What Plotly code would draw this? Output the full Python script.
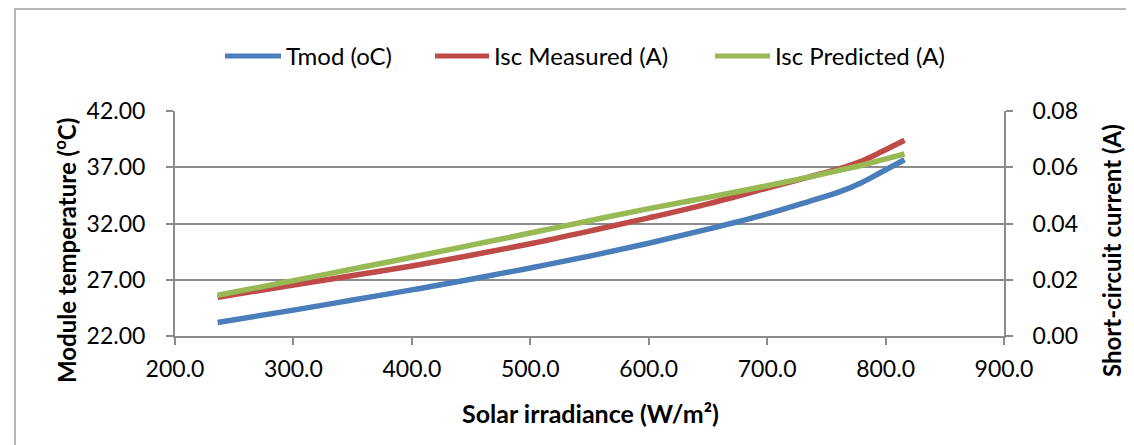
import plotly.graph_objects as go

irradiance = [236, 300, 350, 400, 450, 500, 550, 600, 650, 700, 735, 762, 780, 797, 816]
tmod = [23.2, 24.3, 25.2, 26.1, 27.05, 28.05, 29.1, 30.25, 31.5, 32.85, 33.95, 34.85, 35.65, 36.6, 37.67]
isc_measured = [0.0138, 0.0181, 0.0215, 0.0249, 0.0287, 0.0328, 0.0373, 0.0420, 0.0470, 0.0526,
                0.0565, 0.0596, 0.0622, 0.0656, 0.0696]
isc_predicted = [0.0145, 0.0197, 0.0238, 0.0280, 0.0323, 0.0366, 0.0410, 0.0453, 0.0493, 0.0534,
                 0.0565, 0.0590, 0.0607, 0.0626, 0.0647]

series_names = ["Tmod (oC)", "Isc Measured (A)", "Isc Predicted (A)"]
series_colors = ["#4a7ebb", "#be4b48", "#98b954"]

FONT = "Lato"
GRID = "#8c8c8c"

# plot area in pixels
L, R, T, B = 167, 996, 103, 328
PW, PH = R - L, B - T


def px_x(p):
    return (p - L) / PW


def px_y(p):
    return (B - p) / PH


fig = go.Figure()
fig.add_trace(go.Scatter(x=irradiance, y=tmod, name=series_names[0], mode="lines",
                         showlegend=False,
                         line=dict(color=series_colors[0], width=5.5, shape="spline", smoothing=1)))
fig.add_trace(go.Scatter(x=irradiance, y=isc_measured, name=series_names[1], mode="lines",
                         yaxis="y2", showlegend=False,
                         line=dict(color=series_colors[1], width=5.5, shape="spline", smoothing=1)))
fig.add_trace(go.Scatter(x=irradiance, y=isc_predicted, name=series_names[2], mode="lines",
                         yaxis="y2", showlegend=False,
                         line=dict(color=series_colors[2], width=5.5, shape="spline", smoothing=1)))

shapes = [dict(type="rect", xref="paper", yref="paper",
               x0=px_x(7), x1=px_x(1128), y0=px_y(441), y1=px_y(1),
               line=dict(color="#a0a0a0", width=1.5), fillcolor="rgba(0,0,0,0)", layer="below")]
annotations = []

# legend (manual, to match the long line keys)
leg_y = 48
leg_lines = [(217, 273), (427, 481), (707, 762)]
for (x0, x1), name, col in zip(leg_lines, series_names, series_colors):
    shapes.append(dict(type="line", xref="paper", yref="paper",
                       x0=px_x(x0), x1=px_x(x1), y0=px_y(leg_y), y1=px_y(leg_y),
                       line=dict(color=col, width=5)))
    annotations.append(dict(text=name, xref="paper", yref="paper", x=px_x(x1 + 3), y=px_y(leg_y),
                            xanchor="left", yanchor="middle", showarrow=False,
                            font=dict(family=FONT, size=24, color="black")))

# axis titles
annotations.append(dict(text="<b>Module temperature (<sup>o</sup>C)</b>", xref="paper", yref="paper",
                        x=px_x(57), y=px_y(243), textangle=-90, xanchor="center", yanchor="middle",
                        showarrow=False, font=dict(family=FONT, size=24, color="black")))
annotations.append(dict(text="<b>Short-circuit current (A)</b>", xref="paper", yref="paper",
                        x=px_x(1103), y=px_y(243), textangle=-90, xanchor="center", yanchor="middle",
                        showarrow=False, font=dict(family=FONT, size=24, color="black")))
annotations.append(dict(text="<b>Solar irradiance (W/m²)</b>", xref="paper", yref="paper",
                        x=px_x(582), y=px_y(405), xanchor="center", yanchor="middle",
                        showarrow=False, font=dict(family=FONT, size=25, color="black")))

axis_common = dict(showline=True, linecolor=GRID, linewidth=2, ticks="outside", ticklen=7,
                   tickcolor=GRID, tickwidth=2, zeroline=False,
                   tickfont=dict(family=FONT, size=23, color="black"))

fig.update_layout(
    width=1134, height=445,
    margin=dict(l=L, r=1134 - R, t=T, b=445 - B),
    paper_bgcolor="white", plot_bgcolor="white",
    font=dict(family=FONT, size=22, color="black"),
    showlegend=False,
    xaxis=dict(range=[200, 900], dtick=100, tick0=200, tickformat=".1f", showgrid=False,
               ticklabelstandoff=4, **axis_common),
    yaxis=dict(range=[22, 42], dtick=5, tick0=22, tickformat=".2f",
               showgrid=True, gridcolor=GRID, gridwidth=2, ticklabelstandoff=16, **axis_common),
    yaxis2=dict(range=[0, 0.08], dtick=0.02, tickformat=".2f", overlaying="y", side="right",
                showgrid=False, ticklabelstandoff=15, **axis_common),
    shapes=shapes,
    annotations=annotations,
)

fig.write_html("out.html")
